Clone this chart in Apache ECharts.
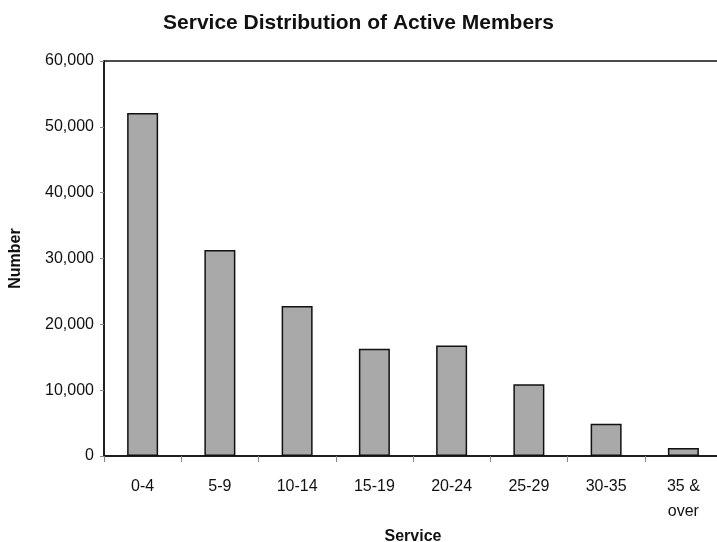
<!DOCTYPE html>
<html>
<head>
<meta charset="utf-8">
<script src="https://cdn.jsdelivr.net/npm/echarts@6/dist/echarts.min.js"></script>
<style>
  html, body { margin: 0; padding: 0; background: #fff; }
  #chart { width: 717px; height: 542px; }
</style>
</head>
<body>
<div id="chart"></div>
<script>
const categories = ['0-4', '5-9', '10-14', '15-19', '20-24', '25-29', '30-35', '35 &\nover']
const members = [52100, 31300, 22800, 16300, 16800, 10900, 4900, 1200]
const yTicks = { min: 0, max: 60000, interval: 10000 }

const font = '"Liberation Sans", Arial, sans-serif'

const chart = echarts.init(document.getElementById('chart'))
chart.setOption({
  animation: false,
  backgroundColor: '#fff',
  title: {
    text: 'Service Distribution of Active Members',
    left: 'center',
    top: 8,
    textStyle: {
      fontFamily: font,
      fontWeight: 'bold',
      fontSize: 21,
      color: '#111'
    }
  },
  grid: {
    left: 104,
    top: 61,
    right: -5,
    bottom: 86,
    containLabel: false,
    outerBoundsMode: 'none',
    show: true,
    borderColor: '#111',
    borderWidth: 1.5
  },
  xAxis: {
    type: 'category',
    data: categories,
    name: 'Service',
    nameLocation: 'middle',
    nameGap: 63,
    nameTextStyle: {
      fontFamily: font,
      fontWeight: 'bold',
      fontSize: 16,
      color: '#111'
    },
    axisLine: { lineStyle: { color: '#111', width: 1.5 } },
    axisTick: { show: true, length: 6, lineStyle: { color: '#888' } },
    axisLabel: {
      margin: 18,
      fontFamily: font,
      fontSize: 16,
      color: '#111',
      lineHeight: 25
    }
  },
  yAxis: {
    type: 'value',
    min: yTicks.min,
    max: yTicks.max,
    interval: yTicks.interval,
    name: 'Number',
    nameLocation: 'middle',
    nameGap: 80,
    nameTextStyle: {
      fontFamily: font,
      fontWeight: 'bold',
      fontSize: 16,
      color: '#111'
    },
    axisLine: { show: true, lineStyle: { color: '#111', width: 1.5 } },
    axisTick: { show: true, length: 4, lineStyle: { color: '#888' } },
    splitLine: { show: false },
    axisLabel: {
      margin: 10,
      fontFamily: font,
      fontSize: 16,
      color: '#111',
      formatter: v => v.toLocaleString('en-US')
    }
  },
  series: [{
    type: 'bar',
    data: members,
    barWidth: 31,
    itemStyle: {
      color: '#a9a9a9',
      borderColor: '#111',
      borderWidth: 1.5
    }
  }]
})
</script>
</body>
</html>
